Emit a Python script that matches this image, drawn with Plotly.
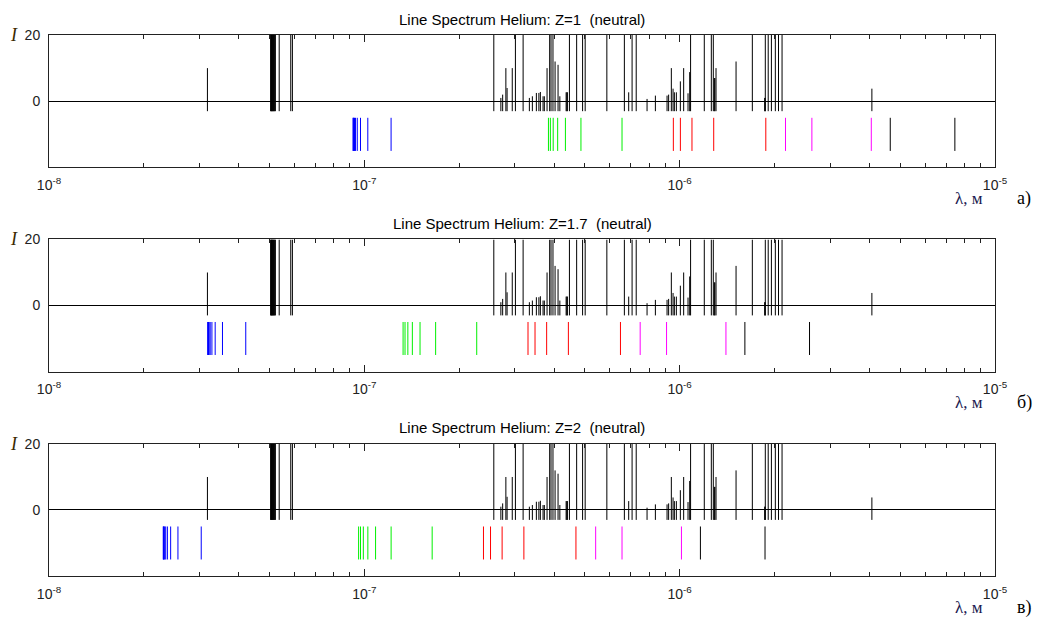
import plotly.graph_objects as go

# ---------------- data ----------------
# Helium lines (wavelength in nm, relative intensity; 20 = clipped at top of axis)
he_wl_nm = [31.8, 50.45, 50.6, 50.75, 50.9, 51.05, 51.21, 51.4, 51.56, 51.8, 52.0, 52.22,
            53.70, 58.43, 59.14,
            257.4, 271.0, 274.6, 281.1, 283.6, 294.5, 301.4, 318.8,
            333.7, 341.1, 351.2, 357.7, 361.6, 368.8, 372.3, 379.7,
            387.0, 390.9, 396.5, 402.6, 411.5, 416.9, 436.5, 438.8, 440.5,
            447.1, 471.3, 492.2, 501.6, 587.6, 667.8, 689.2, 706.5, 728.1,
            788.1, 837.5, 912.0, 922.6, 941.0, 952.8, 962.0, 976.1, 1005.0,
            1029.7, 1063.0, 1076.0, 1083.0, 1197.0, 1260.0, 1278.5, 1288.0,
            1293.0, 1304.0, 1509.5, 1700.0, 1861.0, 1866.0, 1869.0, 1909.0,
            1954.0, 2011.0, 2058.0, 2112.0, 4070.0]
he_int = [10, 20, 20, 20, 20, 20, 20, 20, 20, 20, 20, 20,
          20, 20, 20,
          20, 1, 2, 10, 4, 10, 20, 20,
          1, 1.5, 2.5, 2.5, 2.8, 1.5, 1.5, 10,
          20, 20, 20, 12, 11, 1.5, 2.7, 2.7, 2.7,
          20, 20, 20, 20, 20, 20, 2.7, 20, 20,
          0.7, 1.7, 1.7, 2, 10, 3.8, 2.7, 2.7, 6,
          10, 2.4, 8.8, 20, 20, 20, 20, 7,
          7, 10, 12, 20, 1, 1, 20, 20,
          20, 20, 20, 20, 3.8]

# Hydrogen-like series for each effective charge Z (wavelength in nm)
lyman_z1 = [121.57, 102.57, 97.25, 94.97, 93.78, 93.07, 92.62, 92.31, 92.10]
balmer_z1 = [656.5, 486.3, 434.2, 410.3, 397.1, 389.0, 383.6]
paschen_z1 = [1875.6, 1282.2, 1094.1, 1005.2, 954.9]
brackett_z1 = [4052.0, 2626.0, 2166.0]
pfund_z1 = [7460.0, 4654.0]

lyman_z17 = [42.07, 35.49, 33.65, 32.86, 32.45, 32.20, 32.05, 31.94, 31.87]
balmer_z17 = [227.2, 168.3, 150.2, 142.0, 137.4, 134.6, 132.7]
paschen_z17 = [649.0, 443.7, 378.6, 347.8, 330.4]
brackett_z17 = [1402.0, 908.7, 749.5]
pfund_z17 = [2581.0, 1610.0]

lyman_z2 = [30.39, 25.64, 24.31, 23.74, 23.45, 23.27, 23.16, 23.08, 23.03]
balmer_z2 = [164.1, 121.6, 108.55, 102.6, 99.28, 97.25, 95.9]
paschen_z2 = [468.9, 320.6, 273.5, 251.3, 238.7]
brackett_z2 = [1013.0, 656.5, 541.5]
pfund_z2 = [1865.0, 1163.5]

z_labels = ["1", "1.7", "2"]
panel_letters = ["а)", "б)", "в)"]
series_colors = ["#0000FF", "#00F000", "#FF0000", "#FF00FF", "#000000"]

x_major = [1e-8, 1e-7, 1e-6, 1e-5]
x_major_text = ["10<sup>-8</sup>", "10<sup>-7</sup>", "10<sup>-6</sup>", "10<sup>-5</sup>"]
y_ticks = [0, 20]

series_sets = [
    [lyman_z1, balmer_z1, paschen_z1, brackett_z1, pfund_z1],
    [lyman_z17, balmer_z17, paschen_z17, brackett_z17, pfund_z17],
    [lyman_z2, balmer_z2, paschen_z2, brackett_z2, pfund_z2],
]

# ---------------- figure ----------------
W, H = 1040, 628
ML, MR, MT, MB = 48.7, 45.3, 35, 52
domains = [[0.7551, 1.0], [0.3780, 0.6220], [0.0, 0.2440]]

minor_vals = [m * 10.0 ** e for e in (-8, -7, -6) for m in range(2, 10)]

fig = go.Figure()


def vlines(wl_nm, y0, y1):
    xs, ys = [], []
    for w, a, b in zip(wl_nm, y0, y1):
        xs += [w * 1e-9, w * 1e-9, None]
        ys += [a, b, None]
    return xs, ys


for i in range(3):
    xa = "x" if i == 0 else f"x{i+1}"
    ya = "y" if i == 0 else f"y{i+1}"
    xs, ys = vlines(he_wl_nm, [-3] * len(he_wl_nm), he_int)
    fig.add_trace(go.Scatter(x=xs, y=ys, mode="lines", xaxis=xa, yaxis=ya,
                             line=dict(color="black", width=1),
                             hoverinfo="skip", showlegend=False))
    for s, col in zip(series_sets[i], series_colors):
        xs, ys = vlines(s, [-5] * len(s), [-15] * len(s))
        fig.add_trace(go.Scatter(x=xs, y=ys, mode="lines", xaxis=xa, yaxis=ya,
                                 line=dict(color=col, width=1),
                                 hoverinfo="skip", showlegend=False))

axis_font = dict(family="Liberation Sans, Arial, sans-serif", size=14, color="#222")
layout = dict(
    width=W, height=H,
    margin=dict(l=ML, r=MR, t=MT, b=MB, pad=0),
    paper_bgcolor="white", plot_bgcolor="white",
    showlegend=False,
)
annotations = []
for i in range(3):
    sx = "" if i == 0 else str(i + 1)
    tx = str(i + 4)
    common_x = dict(
        type="log", range=[-8, -5], domain=[0, 1],
        tickmode="array", tickvals=x_major,
        ticks="inside", ticklen=7, tickcolor="#222", tickwidth=1,
        minor=dict(tickvals=minor_vals, ticks="inside",
                   ticklen=4, tickcolor="#222", tickwidth=1, showgrid=False),
        showline=True, linecolor="#222", linewidth=1,
        showgrid=False, zeroline=False,
    )
    layout["xaxis" + sx] = dict(
        common_x, anchor="y" + sx, side="bottom", mirror=True,
        ticktext=x_major_text, tickfont=axis_font, ticklabelstandoff=5,
    )
    layout["xaxis" + tx] = dict(
        common_x, anchor="y" + sx, side="top", overlaying="x" + sx,
        showticklabels=False,
    )
    layout["yaxis" + sx] = dict(
        range=[-20, 20], domain=domains[i], anchor="x" + sx,
        tickmode="array", tickvals=y_ticks, ticks="",
        showline=True, linecolor="#222", linewidth=1, mirror=True,
        showgrid=False, zeroline=True, zerolinecolor="black", zerolinewidth=1,
        tickfont=axis_font, ticklabelstandoff=5,
    )
    top, bot = domains[i][1], domains[i][0]
    annotations.append(dict(
        text=f"Line Spectrum Helium: Z={z_labels[i]}&nbsp; (neutral)",
        xref="paper", yref="paper", x=0.5, y=top, xanchor="center", yanchor="middle",
        yshift=16, showarrow=False,
        font=dict(family="Liberation Sans, Arial, sans-serif", size=15, color="black")))
    annotations.append(dict(
        text="<i>I</i>", xref="paper", yref="paper", x=-0.0367, y=top,
        xanchor="center", yanchor="middle", showarrow=False,
        font=dict(family="Liberation Serif, Times New Roman, serif", size=18, color="#3a2a00")))
    annotations.append(dict(
        text="λ, м", xref="paper", yref="paper", x=0.9898, y=bot,
        xanchor="right", yanchor="middle", yshift=-31, showarrow=False,
        font=dict(family="Liberation Serif, Times New Roman, serif", size=17, color="#1a1a50")))
    annotations.append(dict(
        text=panel_letters[i], xref="paper", yref="paper", x=1.031, y=bot,
        xanchor="center", yanchor="middle", yshift=-31, showarrow=False,
        font=dict(family="Liberation Serif, Times New Roman, serif", size=18, color="black")))

# dummy traces so the top overlay axes get drawn
for i in range(3):
    fig.add_trace(go.Scatter(x=[None], y=[None], xaxis=f"x{i+4}",
                             yaxis="y" if i == 0 else f"y{i+1}",
                             showlegend=False, hoverinfo="skip"))

layout["annotations"] = annotations
fig.update_layout(**layout)

fig.write_html("out.html",
               config={"displayModeBar": False},
               post_script="document.body.style.margin='0px';"
                           "document.body.style.overflow='hidden';")
